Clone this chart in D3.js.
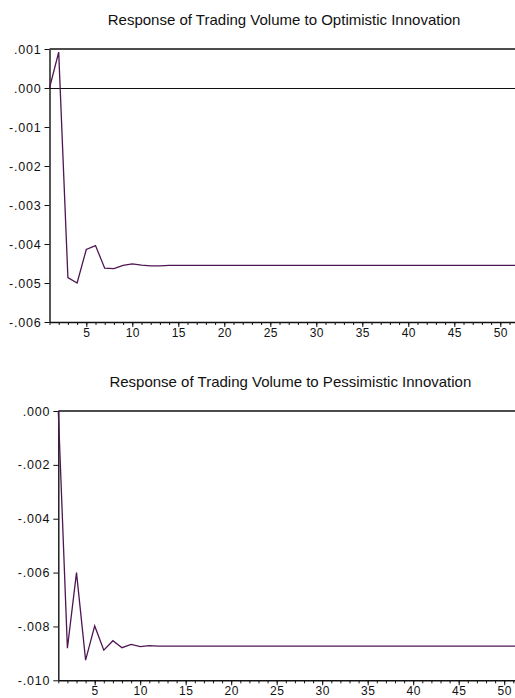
<!DOCTYPE html>
<html>
<head>
<meta charset="utf-8">
<script src="https://cdn.jsdelivr.net/npm/d3@7"></script>
<style>
  body { margin: 0; background: #fff; }
  svg { display: block; }
  text { font-family: Arial, "Liberation Sans", sans-serif; fill: #111; }
</style>
</head>
<body>
<svg id="chart" width="515" height="698"></svg>
<script>
// impulse response periods 1..52
var periods = d3.range(1, 53);

// response to optimistic innovation
var optimisticResp = [
  0.00000, 0.00092, -0.00486, -0.00500, -0.00414, -0.00404, -0.00462, -0.00463,
  -0.00455, -0.00451, -0.00454, -0.00456, -0.00456, -0.00455, -0.00455, -0.00455,
  -0.00455, -0.00455, -0.00455, -0.00455, -0.00455, -0.00455, -0.00455, -0.00455,
  -0.00455, -0.00455, -0.00455, -0.00455, -0.00455, -0.00455, -0.00455, -0.00455,
  -0.00455, -0.00455, -0.00455, -0.00455, -0.00455, -0.00455, -0.00455, -0.00455,
  -0.00455, -0.00455, -0.00455, -0.00455, -0.00455, -0.00455, -0.00455, -0.00455,
  -0.00455, -0.00455, -0.00455, -0.00455
];

// response to pessimistic innovation
var pessimisticResp = [
  0.00000, -0.00881, -0.00600, -0.00925, -0.00798, -0.00888, -0.00853, -0.00879,
  -0.00867, -0.00875, -0.00871, -0.00873, -0.00873, -0.00873, -0.00873, -0.00873,
  -0.00873, -0.00873, -0.00873, -0.00873, -0.00873, -0.00873, -0.00873, -0.00873,
  -0.00873, -0.00873, -0.00873, -0.00873, -0.00873, -0.00873, -0.00873, -0.00873,
  -0.00873, -0.00873, -0.00873, -0.00873, -0.00873, -0.00873, -0.00873, -0.00873,
  -0.00873, -0.00873, -0.00873, -0.00873, -0.00873, -0.00873, -0.00873, -0.00873,
  -0.00873, -0.00873, -0.00873, -0.00873
];

// tick values
var xMajorTicks = [5, 10, 15, 20, 25, 30, 35, 40, 45, 50];
var yTicksTop = [0.001, 0.000, -0.001, -0.002, -0.003, -0.004, -0.005, -0.006];
var yTicksBottom = [0.000, -0.002, -0.004, -0.006, -0.008, -0.010];

var titles = [
  "Response of Trading Volume to Optimistic Innovation",
  "Response of Trading Volume to Pessimistic Innovation"
];

var svg = d3.select("#chart");
var lineColor = "#4e1652";

// eviews style labels: .001, -.002 (plain hyphen)
var fmt = function(v) {
  var s = d3.format(".3f")(Math.abs(v) < 1e-12 ? 0 : v);
  return s.replace("\u2212", "-").replace("0.", ".");
};

var drawPanel = function(opt)
{
  var g = svg.append("g");

  var x = d3.scaleLinear().domain([1, 52]).range([opt.left, opt.right]);
  var y = d3.scaleLinear()
    .domain([opt.yTicks[opt.yTicks.length - 1], opt.yTicks[0]])
    .range([opt.bottom, opt.top]);

  // title over the plot area
  g.append("text")
    .attr("x", (opt.left + opt.right) / 2)
    .attr("y", opt.titleY)
    .attr("text-anchor", "middle")
    .style("font-size", "15px")
    .text(opt.title);

  // minor x ticks, one per period
  g.append("g")
    .attr("transform", "translate(0," + opt.bottom + ")")
    .call(d3.axisBottom(x).tickValues(periods).tickSize(3).tickFormat(""))
    .call(function(a) { a.select(".domain").remove(); })
    .selectAll("line").attr("stroke", "#111").attr("stroke-width", 1);

  // major x ticks with labels
  var xa = g.append("g")
    .attr("transform", "translate(0," + opt.bottom + ")")
    .call(d3.axisBottom(x).tickValues(xMajorTicks).tickSize(5).tickPadding(1).tickSizeOuter(0));
  xa.select(".domain").attr("stroke", "#111").attr("stroke-width", 1.4);
  xa.selectAll("line").attr("stroke", "#111").attr("stroke-width", 1);
  xa.selectAll("text").style("font-size", "12px").style("letter-spacing", "0.5px").attr("fill", "#111");

  // y axis
  var ya = g.append("g")
    .attr("transform", "translate(" + opt.left + ",0)")
    .call(d3.axisLeft(y).tickValues(opt.yTicks).tickFormat(fmt).tickSize(5).tickPadding(3).tickSizeOuter(0));
  ya.select(".domain").attr("stroke", "#111").attr("stroke-width", 1.4);
  ya.selectAll("line").attr("stroke", "#111").attr("stroke-width", 1);
  ya.selectAll("text").style("font-size", "12.5px").style("letter-spacing", "0.8px").attr("fill", "#111");

  // top frame line
  g.append("line")
    .attr("x1", opt.left).attr("x2", 515)
    .attr("y1", opt.top).attr("y2", opt.top)
    .attr("stroke", "#111").attr("stroke-width", 1.4);

  // zero reference line
  if (y(0) > opt.top + 1)
  {
    g.append("line")
      .attr("x1", opt.left).attr("x2", 515)
      .attr("y1", Math.round(y(0)) + 0.5).attr("y2", Math.round(y(0)) + 0.5)
      .attr("stroke", "#111").attr("stroke-width", 1.2);
  }

  // response line
  var line = d3.line()
    .x(function(d, i) { return x(periods[i]); })
    .y(function(d) { return y(d); });

  g.append("path")
    .datum(opt.values)
    .attr("d", line)
    .attr("fill", "none")
    .attr("stroke", lineColor)
    .attr("stroke-width", 1.3)
    .attr("stroke-linejoin", "miter");
};

drawPanel({
  title: titles[0], values: optimisticResp, yTicks: yTicksTop,
  left: 49.5, right: 518.7, top: 49, bottom: 322, titleY: 25
});

drawPanel({
  title: titles[1], values: pessimisticResp, yTicks: yTicksBottom,
  left: 58.3, right: 522.4, top: 411, bottom: 680.3, titleY: 387
});
</script>
</body>
</html>
